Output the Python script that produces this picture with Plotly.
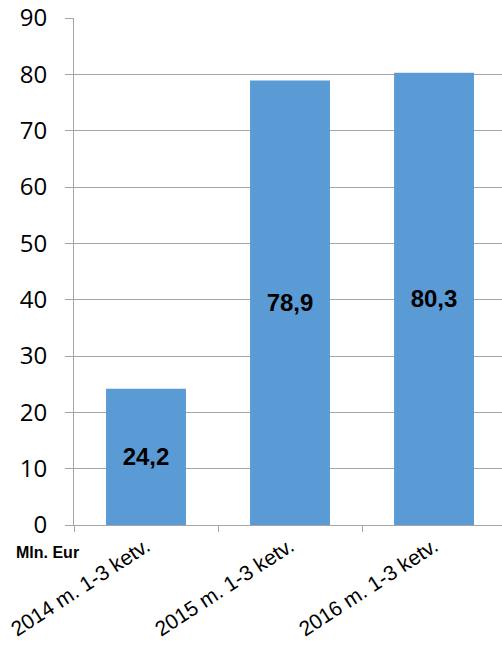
import plotly.graph_objects as go

categories = ["2014 m. 1-3 ketv.", "2015 m. 1-3 ketv.", "2016 m. 1-3 ketv."]
values = [24.2, 78.9, 80.3]
y_ticks = [0, 10, 20, 30, 40, 50, 60, 70, 80, 90]

fig = go.Figure()
fig.add_trace(go.Bar(
    x=categories, y=values,
    marker=dict(color="#5B9BD5", line=dict(width=0)),
    texttemplate="%{y:.1f}",
    textposition="inside",
    insidetextanchor="middle",
    textangle=0,
    textfont=dict(family="Liberation Sans", size=24, color="black", weight="bold"),
    hoverinfo="skip",
))

fig.update_layout(
    width=502, height=650,
    margin=dict(l=74, r=0, t=18, b=125),
    paper_bgcolor="white", plot_bgcolor="white",
    separators=", ",
    bargap=0.445,
    showlegend=False,
    xaxis=dict(
        type="category",
        range=[-0.5, 2.472],
        automargin=False,
        tickangle=-33,
        tickson="boundaries",
        ticks="outside", ticklen=6, tickcolor="#A6A6A6",
        showline=True, linecolor="#A6A6A6", linewidth=1,
        showgrid=False,
        tickfont=dict(family="Liberation Sans", size=21, color="black"),
        ticklabeloverflow="allow",
    ),
    yaxis=dict(
        range=[0, 90],
        automargin=False,
        tickvals=y_ticks,
        ticks="outside", ticklen=8, tickcolor="#A6A6A6",
        showline=True, linecolor="#A6A6A6", linewidth=1,
        showgrid=True, gridcolor="#A6A6A6", gridwidth=1,
        zeroline=False,
        tickfont=dict(family="Open Sans", size=24, color="black"),
        ticklabelstandoff=13,
        ticklabeloverflow="allow",
    ),
    annotations=[dict(
        text="<b>Mln. Eur</b>", xref="paper", yref="paper",
        x=-0.14, y=-0.055, xanchor="left", yanchor="middle",
        showarrow=False,
        font=dict(family="Liberation Sans", size=16, color="black"),
    )],
)

fig.write_html("out.html", config={"displayModeBar": False},
               post_script="document.body.style.margin='0';")
